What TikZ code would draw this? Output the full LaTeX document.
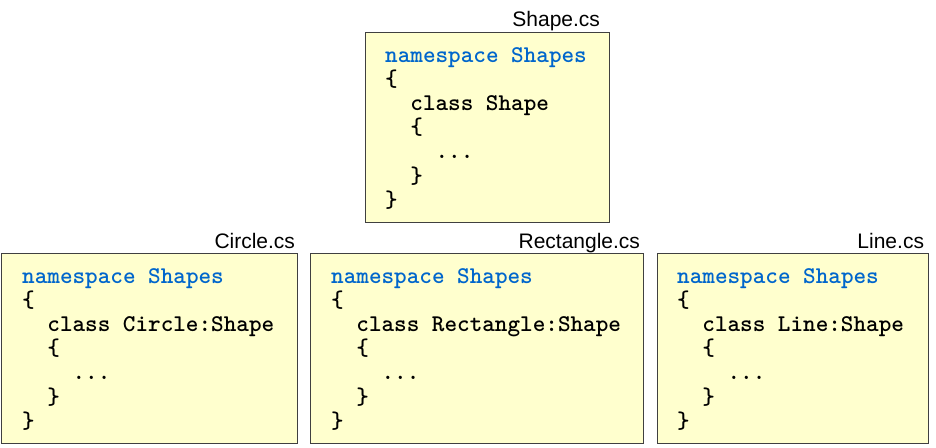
\documentclass[tikz,border=0pt]{standalone}
\usepackage{fontspec}
\setmainfont{Liberation Sans}
\usetikzlibrary{positioning}

\definecolor{notepad}{RGB}{255,255,206}
\definecolor{kwblue}{RGB}{0,102,204}
\tikzset{
  srcbox/.style={draw=black!75, line width=1.2pt, fill=notepad, anchor=north west, inner sep=0pt},
  srcname/.style={font=\fontsize{21}{21}\selectfont, anchor=base east, inner sep=0pt},
  srccode/.style={font=\ttfamily\bfseries\fontsize{24}{24.2}\selectfont, align=left, anchor=north west, inner sep=0pt},
}
\newcommand{\kw}[1]{\textcolor{kwblue}{#1}}
\newcommand{\ind}[1]{\hspace*{#1\fontcharwd\font`x}}

\begin{document}
\begin{tikzpicture}[x=1pt,y=-1pt]
\useasboundingbox (0,0) rectangle (936,447);

% base class file
\node[srcbox, minimum width=244pt, minimum height=190pt] (shapebox) at (365,32) {};
\node[srcname] (shapename) at ([xshift=-10pt,yshift=5pt]shapebox.north east) {Shape.cs};
\node[srccode] (shapecode) at ([shift={(20pt,-15pt)}]shapebox.north west) {%
    \kw{namespace Shapes}\\
    \{\\
    \ind{2}class Shape\\
    \ind{2}\{\\
    \ind{4}...\\
    \ind{2}\}\\
    \}};

% derived class files
\node[srcbox, minimum width=296pt, minimum height=190pt] (circlebox) at (1,253) {};
\node[srcname] (circlename) at ([xshift=-3pt,yshift=5pt]circlebox.north east) {Circle.cs};
\node[srccode] (circlecode) at ([shift={(21pt,-15pt)}]circlebox.north west) {%
    \kw{namespace Shapes}\\
    \{\\
    \ind{2}class Circle:Shape\\
    \ind{2}\{\\
    \ind{4}...\\
    \ind{2}\}\\
    \}};

\node[srcbox, minimum width=333pt, minimum height=190pt] (rectbox) at (310,253) {};
\node[srcname] (rectname) at ([xshift=-4pt,yshift=5pt]rectbox.north east) {Rectangle.cs};
\node[srccode] (rectcode) at ([shift={(21pt,-15pt)}]rectbox.north west) {%
    \kw{namespace Shapes}\\
    \{\\
    \ind{2}class Rectangle:Shape\\
    \ind{2}\{\\
    \ind{4}...\\
    \ind{2}\}\\
    \}};

\node[srcbox, minimum width=271pt, minimum height=190pt] (linebox) at (657,253) {};
\node[srcname] (linename) at ([xshift=-5pt,yshift=5pt]linebox.north east) {Line.cs};
\node[srccode] (linecode) at ([shift={(20pt,-15pt)}]linebox.north west) {%
    \kw{namespace Shapes}\\
    \{\\
    \ind{2}class Line:Shape\\
    \ind{2}\{\\
    \ind{4}...\\
    \ind{2}\}\\
    \}};
\end{tikzpicture}
\end{document}
